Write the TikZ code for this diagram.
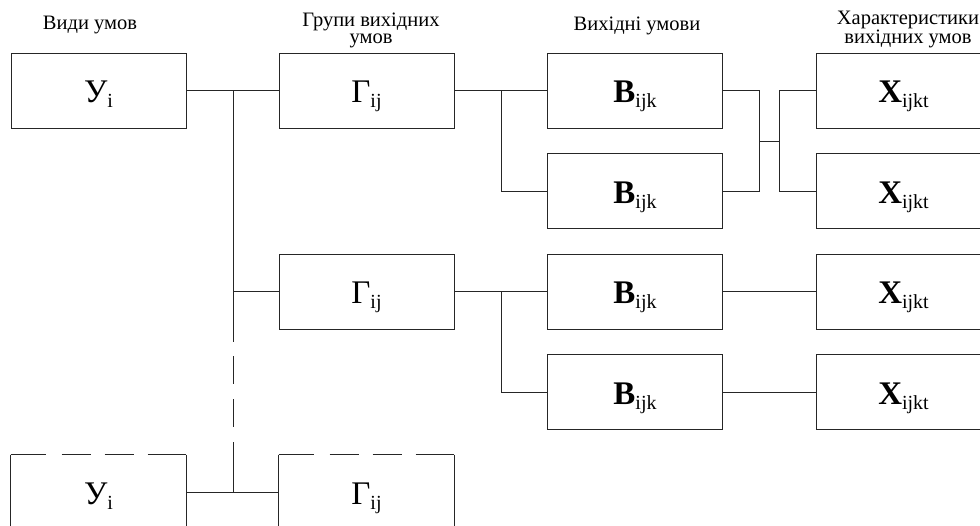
\documentclass[tikz,border=0pt]{standalone}
\usepackage{fontspec}
\setmainfont{Liberation Serif}
% block label: large letter with a lowered index
\newcommand{\boxlab}[2]{{\fontsize{33}{33}\selectfont #1}{\fontsize{20}{20}\selectfont\raisebox{-5pt}{#2}}}
\begin{document}
\begin{tikzpicture}[x=1pt,y=-1pt,
  blk/.style={draw=black!85, line width=0.9pt, rectangle, minimum width=175pt,
    minimum height=75pt, inner sep=0pt, text height=27pt, text depth=3pt},
  openblk/.style={blk, draw=none},
  wire/.style={draw=black!85, line width=0.9pt},
  head/.style={font=\fontsize{20.5}{17}\selectfont, align=center, anchor=base, inner sep=0pt}]
\useasboundingbox (0,0) rectangle (980,525);
\clip (0,0) rectangle (980,525);

% column headings (anchored at the baseline of the last line)
\node[head] (h1) at (90,29) {Види умов};
\node[head] (h2) at (371,43) {Групи вихідних\\умов};
\node[head] (h3) at (637,30) {Вихідні умови};
\node[head] (h4) at (908,43) {Характеристики\\вихідних умов};

% blocks
\node[blk] (Y1) at (98.5,90.5) {\boxlab{У}{i}};
\node[blk] (G1) at (366.5,90.5) {\boxlab{Г}{ij}};
\node[blk] (B1) at (635,90.5) {\boxlab{\bfseries В}{ijk}};
\node[blk] (B2) at (635,191) {\boxlab{\bfseries В}{ijk}};
\node[blk] (X1) at (903.5,90.5) {\boxlab{\bfseries Х}{ijkt}};
\node[blk] (X2) at (903.5,191) {\boxlab{\bfseries Х}{ijkt}};
\node[blk] (G2) at (366.5,291.5) {\boxlab{Г}{ij}};
\node[blk] (B3) at (635,291.5) {\boxlab{\bfseries В}{ijk}};
\node[blk] (B4) at (635,392) {\boxlab{\bfseries В}{ijk}};
\node[blk] (X3) at (903.5,291.5) {\boxlab{\bfseries Х}{ijkt}};
\node[blk] (X4) at (903.5,392) {\boxlab{\bfseries Х}{ijkt}};
\node[openblk] (Y2) at (98.5,492.5) {\boxlab{У}{i}};
\node[openblk] (G3) at (366.5,492.5) {\boxlab{Г}{ij}};

% open blocks: solid sides, dashed top
\foreach \n in {Y2,G3}{
  \draw[wire] (\n.north west) -- (\n.south west);
  \draw[wire] (\n.north east) -- (\n.south east);
  \draw[wire, dash pattern=on 35pt off 16pt on 29pt off 14pt on 29pt off 14pt on 40pt]
    (\n.north west) -- (\n.north east);
}

% junction points
\coordinate (bus) at (233,90.5);
\coordinate (busbreak) at (233,342);
\coordinate (s1) at (501,90.5);
\coordinate (s2) at (501,291.5);
\coordinate (m1) at (759,90.5);
\coordinate (m2) at (779,90.5);

% level 1 -> level 2
\draw[wire] (Y1.east) -- (G1.west);
\draw[wire] (bus) -- (busbreak);
\draw[wire] (bus |- G2.west) -- (G2.west);
\draw[wire, dash pattern=on 0pt off 14pt on 28pt off 15pt on 28pt off 15pt on 60pt]
  (busbreak) -- (bus |- G3.west);
\draw[wire] (Y2.east) -- (G3.west);

% level 2 -> level 3
\draw[wire] (G1.east) -- (B1.west);
\draw[wire] (s1) |- (B2.west);
\draw[wire] (G2.east) -- (B3.west);
\draw[wire] (s2) |- (B4.west);

% level 3 -> level 4
\draw[wire] (B1.east) -- (m1) -- (m1 |- B2.east) -- (B2.east);
\draw[wire] (m1 |- 0,141) -- (m2 |- 0,141);
\draw[wire] (X1.west) -- (m2) -- (m2 |- X2.west) -- (X2.west);
\draw[wire] (B3.east) -- (X3.west);
\draw[wire] (B4.east) -- (X4.west);
\end{tikzpicture}
\end{document}
